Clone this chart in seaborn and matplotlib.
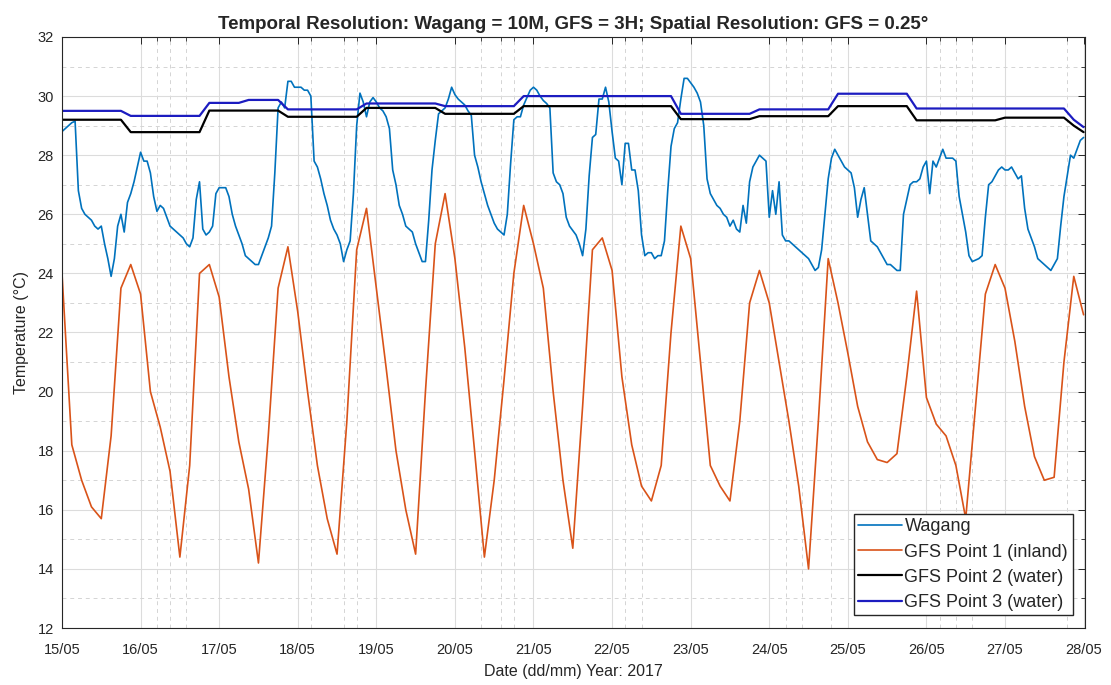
import numpy as np
import pandas as pd
import matplotlib
matplotlib.use("Agg")
import matplotlib.pyplot as plt
import seaborn as sns

# ---------------- data ----------------
date_labels = ["15/05", "16/05", "17/05", "18/05", "19/05", "20/05", "21/05",
               "22/05", "23/05", "24/05", "25/05", "26/05", "27/05", "28/05"]
y_ticks = [12, 14, 16, 18, 20, 22, 24, 26, 28, 30, 32]

series_names = ["Wagang", "GFS Point 1 (inland)", "GFS Point 2 (water)", "GFS Point 3 (water)"]

wagang_temp = [
    28.8, 28.9, 29.0, 29.1, 29.15, 26.8, 26.2, 26.0, 25.9, 25.8, 25.6, 25.5,
    25.6, 25.0, 24.5, 23.9, 24.5, 25.6, 26.0, 25.4, 26.4, 26.7, 27.1, 27.6,
    28.1, 27.8, 27.8, 27.4, 26.6, 26.1, 26.3, 26.2, 25.9, 25.6, 25.5, 25.4,
    25.3, 25.2, 25.0, 24.9, 25.2, 26.5, 27.1, 25.5, 25.3, 25.4, 25.6, 26.7,
    26.9, 26.9, 26.9, 26.6, 26.0, 25.6, 25.3, 25.0, 24.6, 24.5, 24.4, 24.3,
    24.3, 24.6, 24.9, 25.2, 25.6, 27.4, 29.6, 29.8, 29.6, 30.5, 30.5, 30.3,
    30.3, 30.3, 30.2, 30.2, 30.0, 27.8, 27.6, 27.2, 26.7, 26.3, 25.8, 25.5,
    25.3, 25.0, 24.4, 24.8, 25.1, 26.7, 29.0, 30.1, 29.8, 29.3, 29.8, 29.95,
    29.8, 29.6, 29.5, 29.3, 28.9, 27.5, 27.0, 26.3, 26.0, 25.6, 25.5, 25.4,
    25.0, 24.7, 24.4, 24.4, 25.8, 27.5, 28.5, 29.4, 29.5, 29.6, 29.9, 30.3,
    30.05, 29.9, 29.8, 29.7, 29.5, 29.35, 28.0, 27.6, 27.1, 26.7, 26.3, 26.0,
    25.7, 25.5, 25.4, 25.3, 26.0, 27.7, 29.2, 29.3, 29.3, 29.7, 29.95, 30.2,
    30.3, 30.2, 30.0, 29.85, 29.75, 29.6, 27.4, 27.1, 27.0, 26.7, 25.9, 25.6,
    25.45, 25.3, 25.0, 24.6, 25.5, 27.3, 28.6, 28.7, 29.9, 29.9, 30.3, 29.8,
    28.8, 27.9, 27.8, 27.0, 28.4, 28.4, 27.5, 27.5, 26.8, 25.3, 24.6, 24.7,
    24.7, 24.5, 24.6, 24.6, 25.1, 26.8, 28.3, 28.9, 29.1, 29.9, 30.6, 30.6,
    30.45, 30.3, 30.1, 29.8, 29.0, 27.2, 26.7, 26.5, 26.3, 26.2, 26.0, 25.9,
    25.6, 25.8, 25.5, 25.4, 26.3, 25.7, 27.1, 27.6, 27.8, 28.0, 27.9, 27.8,
    25.9, 26.8, 26.0, 27.1, 25.3, 25.1, 25.1, 25.0, 24.9, 24.8, 24.7, 24.6,
    24.5, 24.3, 24.1, 24.2, 24.8, 26.0, 27.2, 27.9, 28.2, 28.0, 27.8, 27.6,
    27.5, 27.4, 26.9, 25.9, 26.5, 26.9, 26.0, 25.1, 25.0, 24.9, 24.7, 24.5,
    24.3, 24.3, 24.2, 24.1, 24.1, 26.0, 26.5, 27.0, 27.1, 27.1, 27.2, 27.6,
    27.8, 26.7, 27.8, 27.6, 27.9, 28.2, 27.9, 27.9, 27.9, 27.8, 26.6, 26.0,
    25.4, 24.6, 24.4, 24.45, 24.5, 24.6, 25.9, 27.0, 27.1, 27.3, 27.5, 27.6,
    27.5, 27.5, 27.6, 27.4, 27.2, 27.3, 26.2, 25.5, 25.2, 24.9, 24.5, 24.4,
    24.3, 24.2, 24.1, 24.3, 24.5, 25.6, 26.6, 27.3, 28.0, 27.9, 28.2, 28.5,
    28.6,
]
wagang_step_hours = 1

# GFS points, every 3 hours
gfs1_inland = [
    24.0, 18.2, 17.0, 16.1, 15.7, 18.5, 23.5, 24.3, 23.3, 20.0, 18.8, 17.3,
    14.4, 17.5, 24.0, 24.3, 23.2, 20.5, 18.3, 16.7, 14.2, 18.5, 23.5, 24.9,
    22.7, 20.0, 17.5, 15.7, 14.5, 19.0, 24.8, 26.2, 23.5, 20.8, 18.0, 16.0,
    14.5, 20.0, 25.0, 26.7, 24.5, 21.5, 18.0, 14.4, 17.0, 20.4, 24.0, 26.3,
    25.0, 23.5, 20.0, 17.0, 14.7, 19.5, 24.8, 25.2, 24.1, 20.5, 18.2, 16.8,
    16.3, 17.5, 22.0, 25.6, 24.5, 21.0, 17.5, 16.8, 16.3, 19.0, 23.0, 24.1,
    23.0, 21.0, 19.0, 16.8, 14.0, 19.0, 24.5, 23.0, 21.3, 19.5, 18.3, 17.7,
    17.6, 17.9, 20.5, 23.4, 19.8, 18.9, 18.5, 17.5, 15.7, 19.5, 23.3, 24.3,
    23.5, 21.7, 19.5, 17.8, 17.0, 17.1, 21.0, 23.9, 22.6,
]
gfs2_water = [
    29.2, 29.2, 29.2, 29.2, 29.2, 29.2, 29.2,
    28.78, 28.78, 28.78, 28.78, 28.78, 28.78, 28.78, 28.78,
    29.51, 29.51, 29.51, 29.51, 29.51, 29.51, 29.51, 29.51,
    29.3, 29.3, 29.3, 29.3, 29.3, 29.3, 29.3, 29.3,
    29.6, 29.6, 29.6, 29.6, 29.6, 29.6, 29.6, 29.6,
    29.4, 29.4, 29.4, 29.4, 29.4, 29.4, 29.4, 29.4,
    29.66, 29.66, 29.66, 29.66, 29.66, 29.66, 29.66, 29.66,
    29.66, 29.66, 29.66, 29.66, 29.66, 29.66, 29.66, 29.66,
    29.22, 29.22, 29.22, 29.22, 29.22, 29.22, 29.22, 29.22,
    29.32, 29.32, 29.32, 29.32, 29.32, 29.32, 29.32, 29.32,
    29.66, 29.66, 29.66, 29.66, 29.66, 29.66, 29.66, 29.66,
    29.18, 29.18, 29.18, 29.18, 29.18, 29.18, 29.18, 29.18, 29.18,
    29.27, 29.27, 29.27, 29.27, 29.27, 29.27, 29.27,
    29.0, 28.78,
]
gfs3_water = [
    29.5, 29.5, 29.5, 29.5, 29.5, 29.5, 29.5,
    29.33, 29.33, 29.33, 29.33, 29.33, 29.33, 29.33, 29.33,
    29.77, 29.77, 29.77, 29.77,
    29.87, 29.87, 29.87, 29.87,
    29.55, 29.55, 29.55, 29.55, 29.55, 29.55, 29.55, 29.55,
    29.75, 29.75, 29.75, 29.75, 29.75, 29.75, 29.75, 29.75,
    29.66, 29.66, 29.66, 29.66, 29.66, 29.66, 29.66, 29.66,
    30.0, 30.0, 30.0, 30.0, 30.0, 30.0, 30.0, 30.0,
    30.0, 30.0, 30.0, 30.0, 30.0, 30.0, 30.0, 30.0,
    29.4, 29.4, 29.4, 29.4, 29.4, 29.4, 29.4, 29.4,
    29.55, 29.55, 29.55, 29.55, 29.55, 29.55, 29.55, 29.55,
    30.08, 30.08, 30.08, 30.08, 30.08, 30.08, 30.08, 30.08,
    29.58, 29.58, 29.58, 29.58, 29.58, 29.58, 29.58, 29.58,
    29.58, 29.58, 29.58, 29.58, 29.58, 29.58, 29.58, 29.58,
    29.2, 28.95,
]
gfs_step_hours = 3

# minor (dashed) vertical grid positions, hours from start
minor_x_hours = [29, 33, 38, 76, 86, 90, 128, 134, 138, 172, 177,
                 221, 226, 235, 268, 273, 278, 307]

# ---------------- styling ----------------
sns.set_theme(style="white")
plt.rcParams["font.family"] = ["Liberation Sans", "DejaVu Sans"]
text_col = "#262626"

colors = {
    "Wagang": "#0072BD",
    "GFS Point 1 (inland)": "#D95319",
    "GFS Point 2 (water)": "#000000",
    "GFS Point 3 (water)": "#1c1cc0",
}
widths = {
    "Wagang": 1.2,
    "GFS Point 1 (inland)": 1.2,
    "GFS Point 2 (water)": 1.6,
    "GFS Point 3 (water)": 1.6,
}

frames = [
    pd.DataFrame({"hours": np.arange(len(wagang_temp)) * wagang_step_hours,
                  "temp": wagang_temp, "series": series_names[0]}),
    pd.DataFrame({"hours": np.arange(len(gfs1_inland)) * gfs_step_hours,
                  "temp": gfs1_inland, "series": series_names[1]}),
    pd.DataFrame({"hours": np.arange(len(gfs2_water)) * gfs_step_hours,
                  "temp": gfs2_water, "series": series_names[2]}),
    pd.DataFrame({"hours": np.arange(len(gfs3_water)) * gfs_step_hours,
                  "temp": gfs3_water, "series": series_names[3]}),
]
df = pd.concat(frames, ignore_index=True)

fig = plt.figure(figsize=(11.11, 6.85), dpi=100)
ax = fig.add_axes([0.0558, 0.0832, 0.921, 0.8628])

for name in series_names:
    sub = df[df["series"] == name]
    sns.lineplot(data=sub, x="hours", y="temp", ax=ax, color=colors[name],
                 linewidth=widths[name], label=name, estimator=None, sort=False)

# axes limits and ticks
ax.set_xlim(0, 312.5)
ax.set_ylim(12, 32)
ax.set_xticks([24 * i for i in range(len(date_labels))])
ax.set_xticklabels(date_labels, fontsize=10.5, color=text_col)
ax.set_yticks(y_ticks)
ax.set_yticklabels([str(v) for v in y_ticks], fontsize=10.5, color=text_col)
ax.set_yticks([v + 1 for v in y_ticks[:-1]], minor=True)
ax.set_xticks(minor_x_hours, minor=True)

ax.grid(True, which="major", color="#dcdcdc", linewidth=0.8, linestyle="-")
ax.grid(True, which="minor", color="#d4d4d4", linewidth=0.7, linestyle=(0, (4, 4)))
ax.set_axisbelow(True)

ax.tick_params(axis="both", which="both", direction="in", top=True, right=True,
               colors=text_col)
ax.tick_params(axis="both", which="major", length=5, width=0.7)
ax.tick_params(axis="both", which="minor", length=3, width=0.6)
ax.tick_params(axis="x", which="major", pad=11)
ax.tick_params(axis="y", which="major", pad=6)
for s in ax.spines.values():
    s.set_color(text_col)
    s.set_linewidth(0.8)

ax.set_xlabel("Date (dd/mm) Year: 2017", fontsize=11.5, color=text_col, labelpad=5)
ax.set_ylabel("Temperature (\u00b0C)", fontsize=11.5, color=text_col, labelpad=6)
ax.set_title("Temporal Resolution: Wagang = 10M, GFS = 3H; Spatial Resolution: GFS = 0.25\u00b0",
             fontsize=13.5, fontweight="bold", color=text_col, pad=6)

leg = ax.legend(loc="lower right", fontsize=13, frameon=True, fancybox=False,
                edgecolor=text_col, framealpha=1, handlelength=2.4,
                handletextpad=0.15, borderaxespad=0.7, borderpad=0.25,
                labelspacing=0.45)
leg.get_frame().set_linewidth(1.0)
for t in leg.get_texts():
    t.set_color(text_col)

fig.savefig("out.png", dpi=100)
